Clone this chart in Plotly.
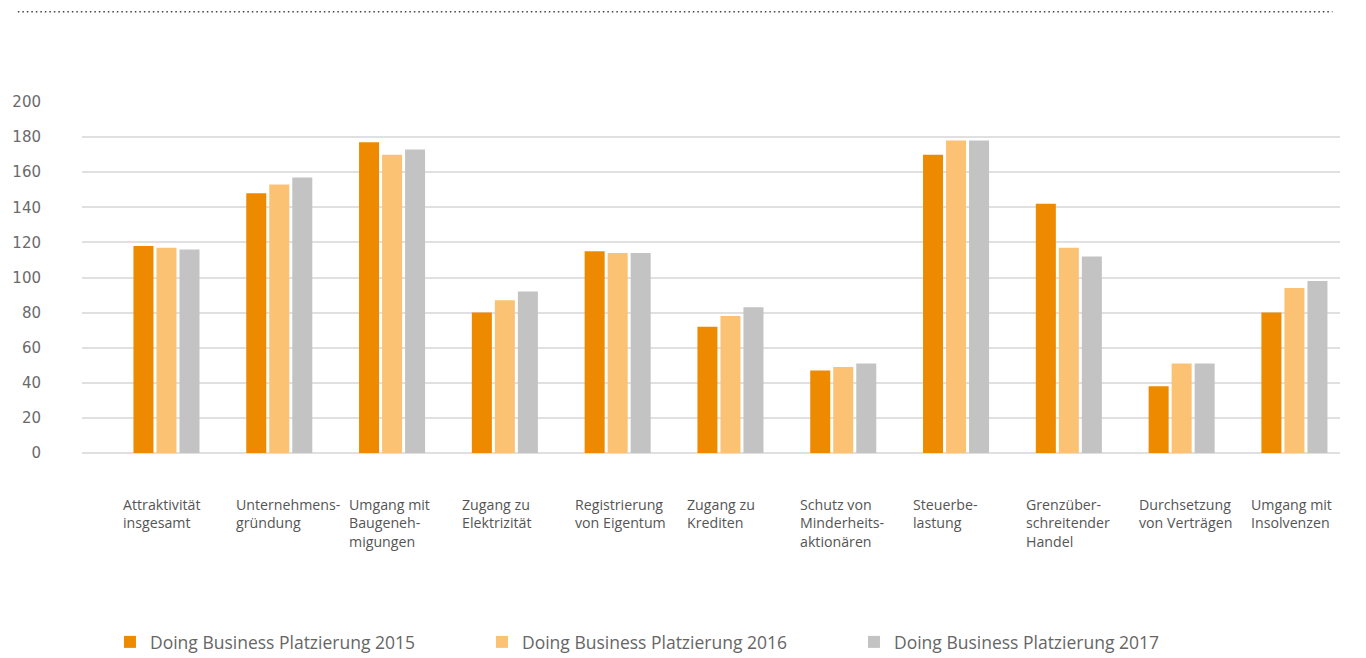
import plotly.graph_objects as go

# Doing Business rankings per indicator
categories = [
    "Attraktivität<br>insgesamt",
    "Unternehmens-<br>gründung",
    "Umgang mit<br>Baugeneh-<br>migungen",
    "Zugang zu<br>Elektrizität",
    "Registrierung<br>von Eigentum",
    "Zugang zu<br>Krediten",
    "Schutz von<br>Minderheits-<br>aktionären",
    "Steuerbe-<br>lastung",
    "Grenzüber-<br>schreitender<br>Handel",
    "Durchsetzung<br>von Verträgen",
    "Umgang mit<br>Insolvenzen",
]
rank_2015 = [118, 148, 177, 80, 115, 72, 47, 170, 142, 38, 80]
rank_2016 = [117, 153, 170, 87, 114, 78, 49, 178, 117, 51, 94]
rank_2017 = [116, 157, 173, 92, 114, 83, 51, 178, 112, 51, 98]

series_names = [
    "Doing Business Platzierung 2015",
    "Doing Business Platzierung 2016",
    "Doing Business Platzierung 2017",
]
series_colors = ["#EE8A00", "#FBC274", "#C3C3C3"]
y_ticks = [0, 20, 40, 60, 80, 100, 120, 140, 160, 180, 200]

cat_ids = list(range(len(categories)))

fig = go.Figure()
for name, vals, col in zip(series_names, [rank_2015, rank_2016, rank_2017], series_colors):
    fig.add_trace(go.Bar(x=cat_ids, y=vals, name=name, marker=dict(color=col, line=dict(width=0))))

# multi-line category labels, left aligned under each group
for i, lab in enumerate(categories):
    fig.add_annotation(
        x=i, y=0, xref="x", yref="paper",
        text=lab, showarrow=False,
        xanchor="left", yanchor="top", align="left",
        xshift=-45, yshift=-40,
        font=dict(family="Open Sans", size=14.2, color="#555555"),
    )

# dotted rule across the top
fig.add_shape(
    type="line", xref="paper", yref="paper",
    x0=-0.051, x1=0.994, y0=1.257, y1=1.257,
    line=dict(color="#444444", width=1.5, dash="1.5px,3px"),
)

fig.update_layout(
    width=1366, height=658,
    margin=dict(l=82, r=26, t=102, b=205, autoexpand=False),
    paper_bgcolor="white", plot_bgcolor="white",
    barmode="group", bargap=0.388, bargroupgap=0.13,
    showlegend=True,
    legend=dict(
        orientation="h", xref="container", yref="container",
        x=0.0805, xanchor="left", y=0.0243, yanchor="middle",
        entrywidth=327, itemwidth=30,
        font=dict(family="Open Sans", size=17.5, color="#666666"),
        traceorder="normal",
    ),
    xaxis=dict(
        range=[-0.749, 10.404], showticklabels=False, showgrid=False,
        zeroline=False, showline=False, tickvals=cat_ids,
    ),
    yaxis=dict(
        range=[0, 200], tickvals=y_ticks, showgrid=True,
        gridcolor="#e0e0e0", gridwidth=1.5,
        zeroline=True, zerolinecolor="#e0e0e0", zerolinewidth=1.5,
        showline=False, ticks="", ticklabelstandoff=40,
        tickfont=dict(family="DejaVu Sans", size=15, color="#6a6a6a"),
    ),
)

fig.write_html("out.html")
